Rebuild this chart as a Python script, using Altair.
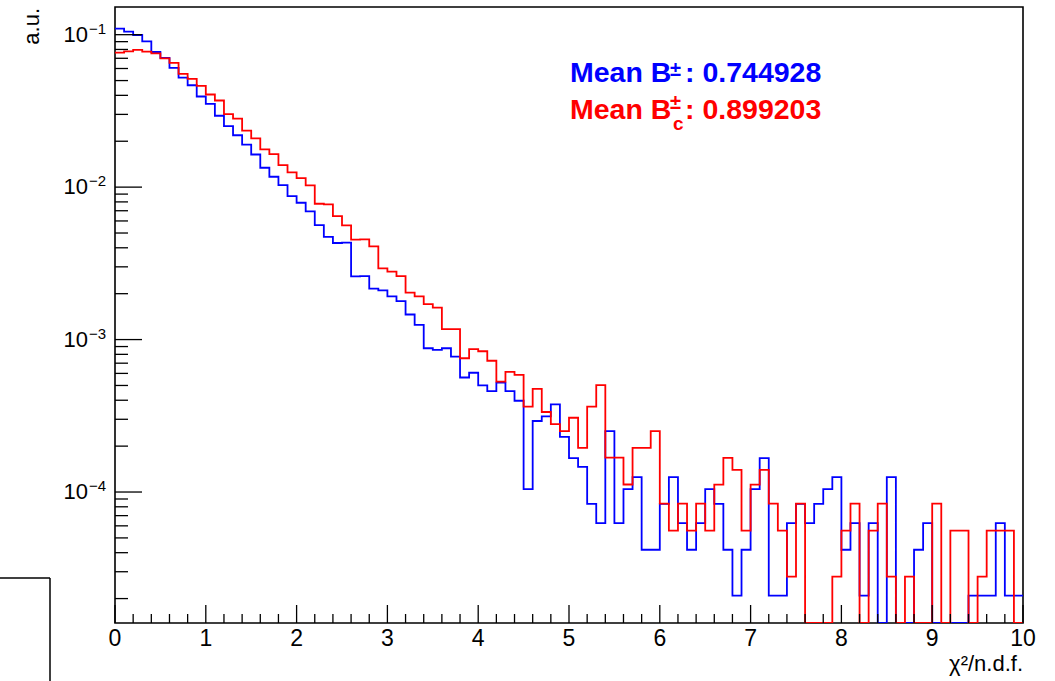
import altair as alt
import pandas as pd

# chi2/ndf distributions, 100 bins of width 0.1 on [0, 10], unit-area normalised (a.u.)
bin_lo = [round(0.1 * i, 1) for i in range(100)]
x_max = 10.0

b_pm = [
    0.1095, 0.1046, 0.0995, 0.0904, 0.0770, 0.0704, 0.0605, 0.0523, 0.0466, 0.0393,
    0.0352, 0.0294, 0.0251, 0.0219, 0.0190, 0.01637, 0.01340, 0.01170, 0.01031, 0.00873,
    0.00790, 0.00693, 0.00564, 0.00471, 0.00430, 0.00432, 0.00260, 0.00261, 0.00216, 0.00210,
    0.00192, 0.00179, 0.00146, 0.001248, 8.77e-4, 8.56e-4, 8.77e-4, 7.73e-4, 5.64e-4, 6.06e-4,
    5.01e-4, 4.59e-4, 5.22e-4, 4.59e-4, 3.97e-4, 1.044e-4, 2.923e-4, 3.132e-4, 3.758e-4, 2.297e-4,
    1.670e-4, 1.462e-4, 8.35e-5, 6.26e-5, 2.506e-4, 6.26e-5, 1.044e-4, 1.253e-4, 4.18e-5, 4.18e-5,
    8.35e-5, 1.253e-4, 6.26e-5, 4.18e-5, 6.26e-5, 1.044e-4, 8.35e-5, 4.18e-5, 2.09e-5, 4.18e-5,
    1.044e-4, 1.670e-4, 2.09e-5, 2.09e-5, 6.26e-5, 8.35e-5, 6.26e-5, 8.35e-5, 1.044e-4, 1.253e-4,
    4.18e-5, 6.26e-5, 2.09e-5, 6.26e-5, 0.0, 1.253e-4, 0.0, 0.0, 4.18e-5, 6.26e-5,
    0.0, 0.0, 0.0, 0.0, 2.09e-5, 2.09e-5, 2.09e-5, 6.26e-5, 2.09e-5, 2.09e-5,
]

bc_pm = [
    0.0762, 0.0777, 0.0794, 0.0774, 0.0754, 0.0700, 0.0653, 0.0553, 0.0513, 0.0461,
    0.0405, 0.0370, 0.0301, 0.0281, 0.0235, 0.0209, 0.01766, 0.01644, 0.01393, 0.01248,
    0.01145, 0.01026, 0.00778, 0.00770, 0.00646, 0.00561, 0.00452, 0.00454, 0.00409, 0.00293,
    0.00279, 0.00261, 0.00203, 0.00192, 0.00171, 0.00162, 0.00117, 0.00117, 7.54e-4, 8.66e-4,
    8.38e-4, 7.26e-4, 5.30e-4, 6.14e-4, 5.86e-4, 3.63e-4, 4.75e-4, 3.35e-4, 2.79e-4, 2.51e-4,
    3.07e-4, 1.95e-4, 3.63e-4, 5.03e-4, 1.68e-4, 1.68e-4, 1.12e-4, 1.95e-4, 1.95e-4, 2.51e-4,
    8.38e-5, 5.58e-5, 8.38e-5, 5.58e-5, 8.38e-5, 5.58e-5, 1.117e-4, 1.675e-4, 1.396e-4, 5.58e-5,
    1.117e-4, 1.396e-4, 8.38e-5, 5.58e-5, 2.79e-5, 8.38e-5, 0.0, 0.0, 0.0, 2.79e-5,
    5.58e-5, 8.38e-5, 0.0, 5.58e-5, 8.38e-5, 2.79e-5, 0.0, 2.79e-5, 0.0, 0.0,
    8.38e-5, 0.0, 5.58e-5, 5.58e-5, 0.0, 2.79e-5, 5.58e-5, 5.58e-5, 5.58e-5, 0.0,
]

series_names = ["B", "Bc"]
series_colors = ["#0000ff", "#ff0000"]
mean_values = ["0.744928", "0.899203"]

y_lo, y_hi = 1.383e-5, 0.1519
decades = [1e-1, 1e-2, 1e-3, 1e-4]
decade_sup = ["\u22121", "\u22122", "\u22123", "\u22124"]
x_major = list(range(11))

W, H = 908, 616
FONT = "Liberation Sans"


def step_frame(name, vals):
    rows = [{"series": name, "x": x, "v": v, "k": i} for i, (x, v) in enumerate(zip(bin_lo, vals))]
    rows.append({"series": name, "x": x_max, "v": vals[-1], "k": len(vals)})
    return pd.DataFrame(rows)


xscale = alt.Scale(domain=[0, x_max], nice=False, zero=False)
yscale = alt.Scale(type="log", domain=[y_lo, y_hi], nice=False, clamp=True)


def hist_layer(name, vals, color):
    return (
        alt.Chart(step_frame(name, vals))
        .transform_calculate(vy="max(datum.v, 1e-9)")
        .mark_line(interpolate="step-after", color=color, strokeWidth=1.8, clip=True)
        .encode(
            x=alt.X("x:Q", scale=xscale, axis=None),
            y=alt.Y("vy:Q", scale=yscale, axis=None),
            order="k:Q",
        )
    )


# inward ticks of the log y axis
y_minor = [k * 10.0 ** e for e in range(-5, 0) for k in range(2, 10) if y_lo <= k * 10.0 ** e <= y_hi]
ymaj = alt.Chart(pd.DataFrame({"t": decades})).mark_rule(color="black", strokeWidth=1.3).encode(
    y=alt.Y("t:Q", scale=yscale, axis=None), x=alt.value(0), x2=alt.value(27)
)
ymin = alt.Chart(pd.DataFrame({"t": y_minor})).mark_rule(color="black", strokeWidth=1.3).encode(
    y=alt.Y("t:Q", scale=yscale, axis=None), x=alt.value(0), x2=alt.value(13)
)

# inward ticks of the x axis
x_minor = [round(0.2 * i, 1) for i in range(51) if i % 5 != 0]
xmaj = alt.Chart(pd.DataFrame({"t": x_major})).mark_rule(color="black", strokeWidth=1.3).encode(
    x=alt.X("t:Q", scale=xscale, axis=None), y=alt.value(H), y2=alt.value(H - 18)
)
xmin = alt.Chart(pd.DataFrame({"t": x_minor})).mark_rule(color="black", strokeWidth=1.3).encode(
    x=alt.X("t:Q", scale=xscale, axis=None), y=alt.value(H), y2=alt.value(H - 9)
)

# x tick labels
xlab = alt.Chart(pd.DataFrame({"t": x_major, "s": [str(v) for v in x_major]})).mark_text(
    font=FONT, fontSize=23, align="center", baseline="top", color="black"
).encode(x=alt.X("t:Q", scale=xscale, axis=None), y=alt.value(H + 5), text="s:N")

# y tick labels written as 10^{n}
lab_df = pd.DataFrame({"t": decades, "sup": decade_sup, "base": ["10"] * 4})
ylab_base = alt.Chart(lab_df).mark_text(
    font=FONT, fontSize=22, align="right", baseline="middle", color="black"
).encode(y=alt.Y("t:Q", scale=yscale, axis=None), x=alt.value(-27), text="base:N")
ylab_sup = alt.Chart(lab_df).mark_text(
    font=FONT, fontSize=15, align="left", baseline="alphabetic", dy=-1, color="black"
).encode(y=alt.Y("t:Q", scale=yscale, axis=None), x=alt.value(-26), text="sup:N")

# axis titles
one = pd.DataFrame({"a": [0]})
xtitle = alt.Chart(one).mark_text(
    font=FONT, fontSize=22, align="right", baseline="alphabetic", color="black"
).encode(x=alt.value(W), y=alt.value(H + 48), text=alt.value("\u03c7\u00b2/n.d.f."))
ytitle = alt.Chart(one).mark_text(
    font=FONT, fontSize=22, align="right", baseline="middle", angle=270, color="black"
).encode(x=alt.value(-83), y=alt.value(1), text=alt.value("a.u."))


# "Mean B^{\pm}" and "Mean B_{c}^{\pm}" annotations
def txt(s, x, y, size, color):
    return alt.Chart(one).mark_text(
        font=FONT, fontSize=size, fontWeight="bold", align="left", baseline="alphabetic", color=color
    ).encode(x=alt.value(x), y=alt.value(y), text=alt.value(s))


tx = 455.0
yb, yr = 75.3, 112.3
FS = 28.5
notes = [
    txt("Mean B", tx, yb, FS, series_colors[0]),
    txt("\u00b1", tx + 100, yb - 6, 20, series_colors[0]),
    txt(": " + mean_values[0], tx + 115, yb, FS, series_colors[0]),
    txt("Mean B", tx, yr, FS, series_colors[1]),
    txt("\u00b1", tx + 100, yr - 10, 20, series_colors[1]),
    txt("c", tx + 103, yr + 10.5, 19, series_colors[1]),
    txt(": " + mean_values[1], tx + 115, yr, FS, series_colors[1]),
]

# small pad outline at the lower left of the canvas
pad_h = alt.Chart(one).mark_rule(color="black", strokeWidth=1.5).encode(
    x=alt.value(-115), x2=alt.value(-65), y=alt.value(571)
)
pad_v = alt.Chart(one).mark_rule(color="black", strokeWidth=1.5).encode(
    x=alt.value(-65), y=alt.value(571), y2=alt.value(680)
)

chart = (
    alt.layer(
        hist_layer(series_names[0], b_pm, series_colors[0]),
        hist_layer(series_names[1], bc_pm, series_colors[1]),
        ymaj, ymin, xmaj, xmin, xlab, ylab_base, ylab_sup, xtitle, ytitle,
        *notes, pad_h, pad_v,
    )
    .properties(
        width=W, height=H,
        autosize=alt.AutoSizeParams(type="none"),
        padding={"left": 115, "top": 7, "right": 32, "bottom": 58},
        background="white",
    )
    .configure_view(stroke="black", strokeWidth=1.6)
)

chart.save("out.html", embed_options={"renderer": "svg", "actions": False})
